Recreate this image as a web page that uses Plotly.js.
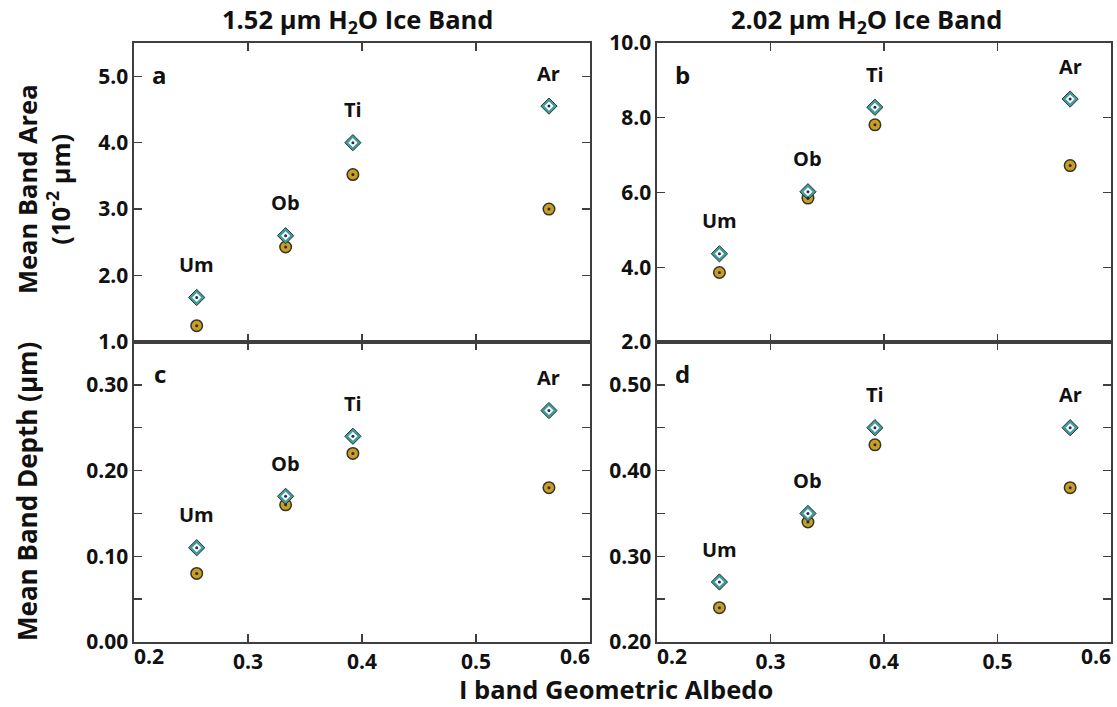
<!DOCTYPE html>
<html>
<head>
<meta charset="utf-8">
<script src="https://cdn.plot.ly/plotly-3.0.1.min.js"></script>
<style>html,body{margin:0;padding:0;background:#fff;}#chart{width:1117px;height:707px;}</style>
</head>
<body>
<div id="chart"></div>
<script>
// ---- data ----
const sites = ['Um', 'Ob', 'Ti', 'Ar'];
const albedo = [0.255, 0.333, 0.392, 0.564];

const area152Diamond = [1.67, 2.60, 4.00, 4.55];
const area152Circle  = [1.245, 2.43, 3.52, 3.00];
const area202Diamond = [4.36, 6.02, 8.28, 8.50];
const area202Circle  = [3.86, 5.85, 7.81, 6.72];
const depth152Diamond = [0.11, 0.17, 0.24, 0.27];
const depth152Circle  = [0.08, 0.16, 0.22, 0.18];
const depth202Diamond = [0.27, 0.35, 0.45, 0.45];
const depth202Circle  = [0.24, 0.34, 0.43, 0.38];

const xTicksMid = [0.3, 0.4, 0.5];
const xTickTextMid = ['0.3', '0.4', '0.5'];
const xTickLow = 0.2, xTickLowText = '0.2';
const xTickHigh = 0.6, xTickHighText = '0.6';
const yTicksA = [1, 2, 3, 4, 5];
const yTickTextA = ['1.0', '2.0', '3.0', '4.0', '5.0'];
const yTicksB = [2, 4, 6, 8, 10];
const yTickTextB = ['2.0', '4.0', '6.0', '8.0', '10.0'];
const yTicksC = [0, 0.10, 0.20, 0.30];
const yTickTextC = ['0.00', '0.10', '0.20', '0.30'];
const yTicksD = [0.20, 0.30, 0.40, 0.50];
const yTickTextD = ['0.20', '0.30', '0.40', '0.50'];

const panelLetters = ['a', 'b', 'c', 'd'];
const columnTitles = ['1.52 µm H<sub>2</sub>O Ice Band', '2.02 µm H<sub>2</sub>O Ice Band'];
const xTitle = 'I band Geometric Albedo';
const yTitleTop = 'Mean Band Area<br>(10<sup>-2</sup> µm)';
const yTitleBottom = 'Mean Band Depth (µm)';

// ---- styling ----
const FONT = 'Open Sans, Liberation Sans, sans-serif';
const teal = '#3a9ea0';
const gold = '#c99e22';
const dark = '#34342a';

const panels = [
  {xa: 'x', ya: 'y', d: area152Diamond, c: area152Circle},
  {xa: 'x2', ya: 'y2', d: area202Diamond, c: area202Circle},
  {xa: 'x3', ya: 'y3', d: depth152Diamond, c: depth152Circle},
  {xa: 'x4', ya: 'y4', d: depth202Diamond, c: depth202Circle}
];

const traces = [];
panels.forEach((p) => {
  traces.push({
    x: albedo, y: p.c, xaxis: p.xa, yaxis: p.ya, type: 'scatter', mode: 'markers',
    marker: {symbol: 'circle', size: 11.5, color: gold, line: {color: dark, width: 1.5}},
    showlegend: false, hoverinfo: 'x+y'
  });
  traces.push({
    x: albedo, y: p.d, xaxis: p.xa, yaxis: p.ya, type: 'scatter', mode: 'markers',
    marker: {symbol: 'diamond', size: 12.5, color: teal, line: {color: dark, width: 1}},
    showlegend: false, hoverinfo: 'x+y'
  });
  traces.push({
    x: albedo, y: p.d, xaxis: p.xa, yaxis: p.ya, type: 'scatter', mode: 'markers',
    marker: {symbol: 'diamond', size: 7, color: '#ffffff', line: {width: 0}},
    showlegend: false, hoverinfo: 'skip'
  });
  traces.push({
    x: albedo.concat(albedo), y: p.d.concat(p.c), xaxis: p.xa, yaxis: p.ya, type: 'scatter', mode: 'markers',
    marker: {symbol: 'circle', size: 3, color: '#2a2a3a'},
    showlegend: false, hoverinfo: 'skip'
  });
});
// empty traces so the overlay axes carrying the end tick labels get drawn
[['x5', 'y3'], ['x6', 'y3'], ['x7', 'y4'], ['x8', 'y4']].forEach(([xa, ya]) => {
  traces.push({x: [], y: [], xaxis: xa, yaxis: ya, type: 'scatter', mode: 'markers',
    showlegend: false, hoverinfo: 'skip'});
});

const W = 1117, H = 707;
const M = {l: 134, r: 6, t: 43, b: 65};
const pw = W - M.l - M.r, ph = H - M.t - M.b;
const px = v => (v - M.l) / pw;
const py = v => (H - M.b - v) / ph;

const tickFont = {family: FONT, size: 21, color: '#111', weight: 700};
const lineCol = '#3f3f3f';

function xax(dom, anchor, labels) {
  return {
    domain: dom, anchor: anchor, range: [0.2, 0.6],
    tickmode: 'array', tickvals: xTicksMid, ticktext: xTickTextMid, showticklabels: labels,
    ticks: 'inside', ticklen: 8, tickwidth: 1.3, tickcolor: lineCol,
    showline: true, mirror: 'ticks', linecolor: lineCol, linewidth: 1.6,
    showgrid: false, zeroline: false, tickfont: tickFont
  };
}
// overlay axis carrying one end label, placed beside its tick (inward), as in the reference
function xEnd(base, anchor, val, text, pos) {
  return {
    overlaying: base, anchor: anchor, side: 'bottom', range: [0.2, 0.6],
    tickmode: 'array', tickvals: [val], ticktext: [text], ticks: '',
    ticklabelposition: pos, showline: false, showgrid: false, zeroline: false,
    tickfont: tickFont
  };
}
function yax(dom, anchor, range, vals, text, minorStep) {
  const a = {
    domain: dom, anchor: anchor, range: range,
    tickmode: 'array', tickvals: vals, ticktext: text,
    ticks: 'inside', ticklen: 8, tickwidth: 1.3, tickcolor: lineCol,
    showline: true, mirror: 'ticks', linecolor: lineCol, linewidth: 1.6,
    showgrid: false, zeroline: false, tickfont: tickFont
  };
  if (minorStep) {
    a.minor = {tickmode: 'linear', tick0: range[0], dtick: minorStep, ticks: 'inside',
      ticklen: 8, tickwidth: 1.3, tickcolor: lineCol, showgrid: false};
  }
  return a;
}

const xL = [0, px(590)], xR = [px(657), 1];
const yT = [py(342), 1], yB = [0, py(342)];

const annotations = [];
panels.forEach((p, i) => {
  sites.forEach((s, k) => {
    annotations.push({
      x: albedo[k], y: p.d[k], xref: p.xa, yref: p.ya, text: s, showarrow: false,
      yshift: 33, font: {family: FONT, size: 20, color: '#111', weight: 700}
    });
  });
  const xd = p.xa === 'x' ? 'x domain' : p.xa + ' domain';
  const yd = p.ya === 'y' ? 'y domain' : p.ya + ' domain';
  annotations.push({
    x: 0.056, y: 0.895, xref: xd, yref: yd, text: panelLetters[i], showarrow: false,
    xanchor: 'center', yanchor: 'middle',
    font: {family: FONT, size: 24, color: '#111', weight: 700}
  });
});
const bigFont = s => ({family: FONT, size: s, color: '#111', weight: 700});
annotations.push({x: px(357), y: py(21), xref: 'paper', yref: 'paper', text: columnTitles[0],
  showarrow: false, xanchor: 'center', yanchor: 'middle', font: bigFont(25.5)});
annotations.push({x: px(866), y: py(21), xref: 'paper', yref: 'paper', text: columnTitles[1],
  showarrow: false, xanchor: 'center', yanchor: 'middle', font: bigFont(25.5)});
annotations.push({x: px(616), y: py(706.5), xref: 'paper', yref: 'paper', text: xTitle,
  showarrow: false, xanchor: 'center', yanchor: 'bottom', borderpad: 0, font: bigFont(25.5)});
annotations.push({x: px(43), y: py(189), xref: 'paper', yref: 'paper', text: yTitleTop, textangle: -90,
  showarrow: false, xanchor: 'center', yanchor: 'middle', font: bigFont(25.5)});
annotations.push({x: px(27), y: py(492), xref: 'paper', yref: 'paper', text: yTitleBottom, textangle: -90,
  showarrow: false, xanchor: 'center', yanchor: 'middle', font: bigFont(26)});

const layout = {
  width: W, height: H, margin: M,
  paper_bgcolor: '#ffffff', plot_bgcolor: 'rgba(0,0,0,0)',
  font: {family: FONT, color: '#111'},
  showlegend: false,
  xaxis: xax(xL, 'y', false),
  yaxis: yax(yT, 'x', [1, 5.5], yTicksA, yTickTextA),
  xaxis2: xax(xR, 'y2', false),
  yaxis2: yax(yT, 'x2', [2, 10], yTicksB, yTickTextB),
  xaxis3: xax(xL, 'y3', true),
  yaxis3: yax(yB, 'x3', [0, 0.35], yTicksC, yTickTextC, 0.05),
  xaxis4: xax(xR, 'y4', true),
  yaxis4: yax(yB, 'x4', [0.2, 0.55], yTicksD, yTickTextD, 0.05),
  xaxis5: xEnd('x3', 'y3', xTickLow, xTickLowText, 'outside right'),
  xaxis6: xEnd('x3', 'y3', xTickHigh, xTickHighText, 'outside left'),
  xaxis7: xEnd('x4', 'y4', xTickLow, xTickLowText, 'outside right'),
  xaxis8: xEnd('x4', 'y4', xTickHigh, xTickHighText, 'outside left'),
  annotations: annotations
};

Plotly.newPlot('chart', traces, layout, {displayModeBar: false, staticPlot: true});
</script>
</body>
</html>
